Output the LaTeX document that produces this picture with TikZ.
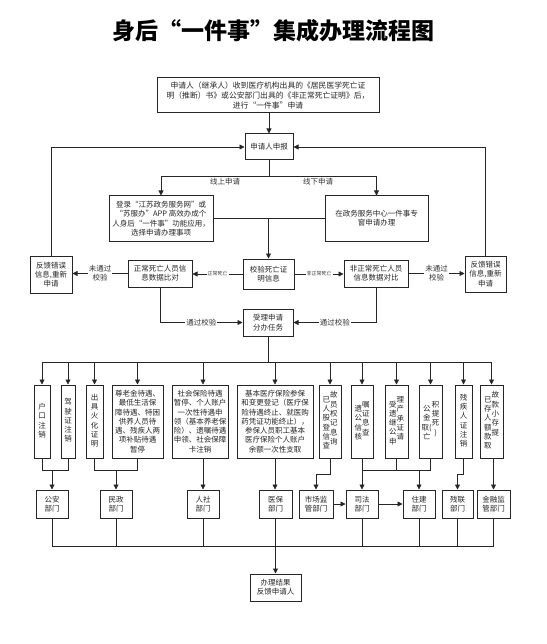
\documentclass[tikz,border=0pt]{standalone}
\usepackage{fontspec}
\setmainfont{Noto Sans CJK SC}
\usetikzlibrary{arrows.meta}
\newcommand\vcol[1]{\begin{tabular}[t]{@{}c@{}}#1\end{tabular}}
\newcommand\twocol[2]{\vcol{#1}\raisebox{4.5pt}{\vcol{#2}}}
\newcommand\bx[7][]{\node[box,#1,minimum width={(#5-#3)*1pt},minimum height={(#6-#4)*1pt}] (#2) at ({(#3+#5)/2},{(#4+#6)/2}) {#7};}
\tikzset{
  box/.style={draw=black!85, line width=1pt, inner sep=0pt, align=center, text=black!85, font=\fontsize{7.5}{9.3}\selectfont},
  ln/.style={draw=black!85, line width=0.8pt},
  arr/.style={-{Triangle[length=5pt,width=5pt]}},
  lab/.style={fill=white, inner sep=1pt, align=center, text=black!80, font=\fontsize{7.5}{9}\selectfont},
  tinylab/.style={fill=white, inner sep=1pt, text=black!80, font=\fontsize{5}{6}\selectfont},
  titlestyle/.style={font=\fontsize{23}{26}\selectfont\bfseries, text=black}
}
\begin{document}
\begin{tikzpicture}[x=1pt,y=-1pt]
\useasboundingbox[fill=white] (0,0) rectangle (546,644);
\node[titlestyle] (title) at (273,31) {身后“一件事”集成办理流程图};
\bx[font=\fontsize{7.8}{10}\selectfont]{top}{157}{78}{379}{113}{申请人（继承人）收到医疗机构出具的《居民医学死亡证\\明（推断）书》或公安部门出具的《非正常死亡证明》后，\\进行“一件事”申请}
\bx{apply}{245}{134}{293}{160}{申请人申报}
\bx{online}{109}{196}{213}{241}{登录“江苏政务服务网”或\\“苏服办”APP 高效办成个\\人身后“一件事”功能应用，\\选择申请办理事项}
\bx{offline}{325}{196}{428}{241}{在政务服务中心一件事专\\窗申请办理}
\bx{fbL}{30}{256}{72}{293}{反馈错误\\信息,重新\\申请}
\bx{normal}{128}{260}{192}{287}{正常死亡人员信\\息数据比对}
\bx{check}{243}{259}{294}{289}{校验死亡证\\明信息}
\bx{abnormal}{344}{260}{408}{287}{非正常死亡人员\\信息数据对比}
\bx{fbR}{465}{256}{506}{292}{反馈错误\\信息,重新\\申请}
\bx{accept}{243}{309}{293}{336}{受理申请\\分办任务}
% task row
\bx{b1}{34}{385}{50}{458}{\vcol{户\\口\\注\\销}}
\bx{b2}{61}{385}{75}{458}{\vcol{驾\\驶\\证\\注\\销}}
\bx{b3}{86}{385}{103}{458}{\vcol{出\\具\\火\\化\\证\\明}}
\bx{b4}{112}{385}{163}{458}{尊老金待遇、\\最低生活保\\障待遇、特困\\供养人员待\\遇、残疾人两\\项补贴待遇\\暂停}
\bx{b5}{172}{385}{228}{458}{社会保险待遇\\暂停、个人账户\\一次性待遇申\\领（基本养老保\\险）、遗嘱待遇\\申领、社会保障\\卡注销}
\bx{b6}{237}{385}{313}{458}{基本医疗保险参保\\和变更登记（医疗保\\险待遇终止、就医购\\药凭证功能终止），\\参保人员职工基本\\医疗保险个人账户\\余额一次性支取}
\bx{b7}{319}{385}{341}{458}{\twocol{已\\人\\股\\登\\信\\查}{故\\员\\权\\记\\息\\询}}
\bx{b8}{351}{385}{373}{458}{\twocol{遗\\公\\信\\核}{嘱\\证\\息\\查}}
\bx{b9}{385}{385}{408}{458}{\twocol{受\\遗\\继\\公\\申}{理\\产\\承\\证\\请}}
\bx{b10}{419}{385}{442}{458}{\twocol{公\\金\\取(\\亡}{积\\提\\死\\)}}
\bx{b11}{455}{385}{472}{458}{\vcol{残\\疾\\人\\证\\注\\销}}
\bx{b12}{480}{385}{503}{458}{\twocol{已\\存\\人\\额\\款\\取}{故\\款\\小\\存\\提}}
% departments
\bx{gongan}{36}{490}{68}{518}{公安\\部门}
\bx{minzheng}{100}{490}{132}{518}{民政\\部门}
\bx{renshe}{187}{490}{219}{518}{人社\\部门}
\bx{yibao}{259}{490}{292}{518}{医保\\部门}
\bx{shichang}{299}{490}{333}{518}{市场监\\管部门}
\bx{sifa}{346}{490}{378}{518}{司法\\部门}
\bx{zhujian}{403}{490}{435}{518}{住建\\部门}
\bx{canlian}{442}{490}{473}{518}{残联\\部门}
\bx{jinrong}{477}{490}{510}{518}{金融监\\管部门}
\bx{final}{250}{574}{301}{601}{办理结果\\反馈申请人}
% connectors top part
\draw[ln,arr] (top.south -| apply.north) -- (apply.north);
\draw[ln,arr] (fbL.north) |- (apply.west);
\draw[ln,arr] (fbR.north) |- (apply.east);
\coordinate (split) at (269,176);
\draw[ln] (apply.south) -- (split);
\draw[ln,arr] (split) -| (online.north);
\draw[ln,arr] (split) -| (offline.north);
\node[lab] (lon) at (225,182) {线上申请};
\node[lab] (loff) at (318,182) {线下申请};
\draw[ln] (online.east) -- (offline.west);
\draw[ln,arr] (online.east -| check.north) -- (check.north);
\draw[ln,arr] (check.west) -- node[tinylab]{正常死亡} (check.west -| normal.east);
\draw[ln,arr] (check.east) -- node[tinylab]{非正常死亡} (check.east -| abnormal.west);
\draw[ln,arr] (normal.west) -- node[lab]{未通过\\校验} (normal.west -| fbL.east);
\draw[ln,arr] (abnormal.east) -- node[lab]{未通过\\校验} (abnormal.east -| fbR.west);
\draw[ln,arr] (normal.south) |- node[lab,pos=0.75]{通过校验} (accept.west);
\draw[ln,arr] (abnormal.south) |- node[lab,pos=0.75]{通过校验} (accept.east);
% distribution bus
\coordinate (bus) at (268,362);
\draw[ln] (accept.south) -- (bus);
\draw[ln] (b1.north |- bus) -- (b12.north |- bus);
\foreach \b in {b1,b2,b3,b4,b6,b7,b8,b9,b10,b11,b12}
  \draw[ln,arr] (\b.north |- bus) -- (\b.north);
\draw[ln,arr] (renshe.north |- bus) -- (renshe.north |- b5.north);
% to departments
\draw[ln] (b1.south) -- ++(0,12) -| (b2.south);
\draw[ln,arr] (gongan.north |- 0,470) -- (gongan.north);
\draw[ln] (b3.south) -- ++(0,12) -| (b4.south);
\draw[ln,arr] (minzheng.north |- 0,470) -- (minzheng.north);
\draw[ln,arr] (renshe.north |- b5.south) -- (renshe.north);
\draw[ln,arr] (b6.south) -- (b6.south |- yibao.north);
\draw[ln,arr] (b7.south) -- ++(0,16) -| (shichang.north);
\draw[ln] (b8.south) -- ++(0,12) -| (b10.south);
\draw[ln] (b9.south) -- ++(0,12);
\draw[ln,arr] (sifa.north |- 0,470) -- (sifa.north);
\draw[ln,arr] (zhujian.north |- 0,470) -- (zhujian.north);
\draw[ln,arr] (b11.south) -- ++(0,16) -| (canlian.north);
\draw[ln,arr] (jinrong.north |- b12.south) -- (jinrong.north);
\draw[ln,arr] (shichang.east) -- (sifa.west);
\draw[ln,arr] (sifa.east) -- (zhujian.west);
% results bus
\coordinate (bus2) at (275,546);
\foreach \d in {gongan,minzheng,renshe,sifa,zhujian,canlian,jinrong}
  \draw[ln] (\d.south) -- (\d.south |- bus2);
\draw[ln] (gongan.south |- bus2) -- (jinrong.south |- bus2);
\draw[ln,arr] (yibao.south) -- (yibao.south |- final.north);
\end{tikzpicture}
\end{document}
